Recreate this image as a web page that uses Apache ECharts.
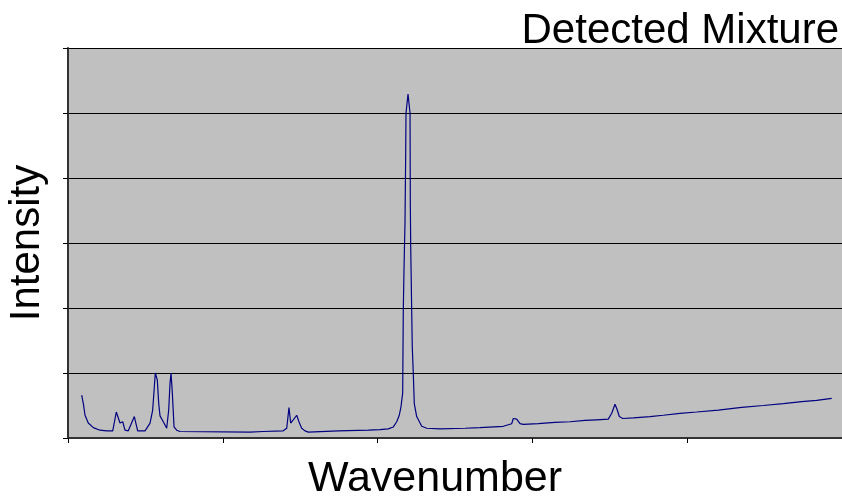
<!DOCTYPE html>
<html>
<head>
<meta charset="utf-8">
<script src="https://cdn.jsdelivr.net/npm/echarts@6/dist/echarts.min.js"></script>
<style>
  html, body { margin: 0; padding: 0; background: #fff; }
  #chart { width: 842px; height: 496px; }
</style>
</head>
<body>
<div id="chart"></div>
<script>
// spectrum (arbitrary units)
const wavenumber = [
  17.7, 19.8, 22, 26.2, 32.7, 41.3, 50, 57.8, 62.4, 67.2, 70.7, 73.6, 77.9, 85.7, 90,
  99.5, 106, 109.4, 112.8, 115.4, 117.2, 118.9, 121, 123.1, 125.3, 127.5, 130.1, 131.8,
  133.1, 134.8, 137, 140.4, 144.7, 235, 252, 278, 282.6, 285.5, 287.7, 291, 295.5, 298.4,
  301.9, 306.2, 310.5, 349.2, 388, 403, 413.8, 420.3, 424.7, 428, 430.2, 432.4, 433.2,
  434.1, 435.4, 436.3, 436.7, 439.3, 441.9, 442.3, 442.8, 444.1, 444.8, 446.1, 447.4,
  450.5, 457, 463.4, 480.6, 512.9, 532.3, 562.4, 573.3, 575.3, 577.5, 579.7, 584, 588.2,
  607.6, 629.2, 648.6, 668, 683, 698, 702.5, 706.7, 709.7, 712.3, 716.7, 730.4, 751.9,
  769.1, 790.7, 812.3, 840.2, 870.4, 898.3, 924.2, 947.9, 967.3, 986.7
];
const intensity = [
  66, 53, 35, 23, 16, 12, 11, 11, 40, 23, 25, 12, 11, 33, 11,
  11, 23, 43, 100, 89, 53, 34, 32, 25, 20, 15, 43, 84,
  100, 69, 17, 12, 10, 9, 10, 11, 15, 47, 23, 28, 35, 25,
  15, 11, 9, 11, 12, 13, 14, 17, 25, 35, 48, 69, 197,
  258, 331, 438, 500, 529, 500, 356, 294, 192, 140, 100, 53,
  33, 18, 15, 14, 15, 16, 18, 22, 30, 27, 29, 22, 21,
  22, 24, 25, 27, 28, 29, 38, 52, 43, 33, 30, 31, 33,
  35, 38, 40, 43, 47, 50, 53, 56, 58, 61
];

const chart = echarts.init(document.getElementById("chart"));

chart.setOption({
  animation: false,
  title: {
    text: "Detected Mixture",
    right: 3,
    top: 10,
    padding: 0,
    textStyle: { fontFamily: "Liberation Sans", fontSize: 42, fontWeight: "normal", color: "#000" }
  },
  grid: {
    left: 68, right: 0, top: 48, bottom: 58,
    outerBoundsMode: "none",
    show: true, backgroundColor: "#c0c0c0", borderWidth: 0
  },
  xAxis: {
    type: "value",
    min: 0, max: 1000, interval: 200,
    name: "Wavenumber",
    nameLocation: "middle",
    nameGap: 20,
    nameTextStyle: { fontFamily: "Liberation Sans", fontSize: 43, color: "#000", padding: [0, 40, 0, 0] },
    axisLine: { lineStyle: { color: "#333", width: 2 } },
    axisTick: { show: true, length: 5, lineStyle: { color: "#000" } },
    axisLabel: { show: false },
    splitLine: { show: false }
  },
  yAxis: {
    type: "value",
    min: 0, max: 600, interval: 100,
    name: "Intensity",
    nameLocation: "middle",
    nameGap: 20,
    nameTextStyle: { fontFamily: "Liberation Sans", fontSize: 42, color: "#000" },
    axisLine: { show: true, lineStyle: { color: "#333", width: 2 } },
    axisTick: { show: true, length: 5, lineStyle: { color: "#000" } },
    axisLabel: { show: false },
    splitLine: { show: true, lineStyle: { color: "#000", width: 1 } }
  },
  series: [{
    type: "line",
    data: wavenumber.map((w, i) => [w, intensity[i]]),
    showSymbol: false,
    lineStyle: { color: "#000080", width: 1.2 }
  }]
});
</script>
</body>
</html>
